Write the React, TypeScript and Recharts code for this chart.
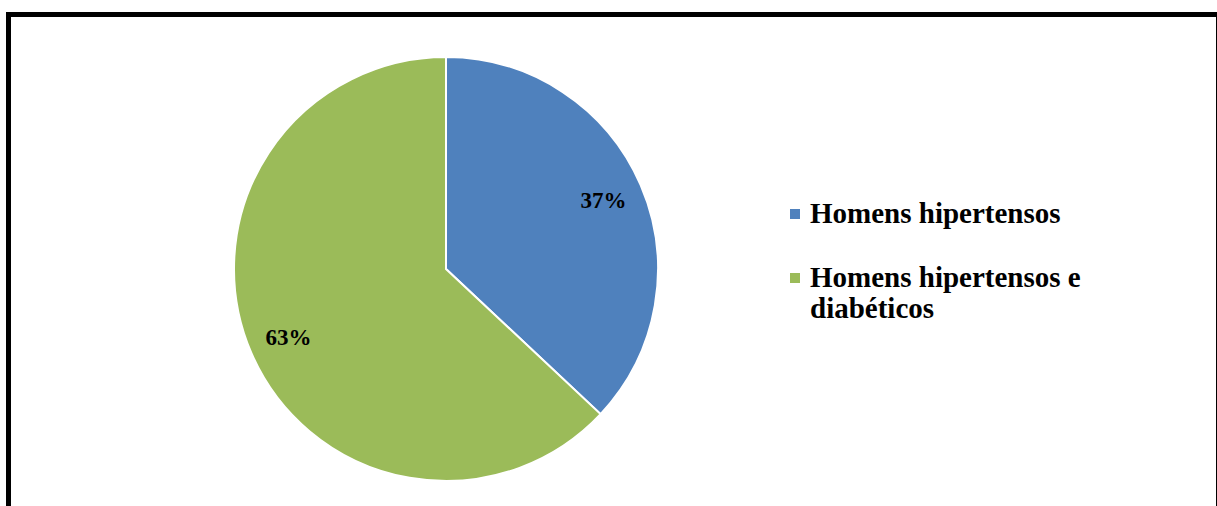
import React from "react";
import { PieChart, Pie, Cell, Legend } from "recharts";

const categories = ["Homens hipertensos", "Homens hipertensos e diabéticos"];
const values = [37, 63];
const colors = ["#4F81BD", "#9BBB59"];

const data = categories.map((name, i) => ({ name, value: values[i] }));

const RAD = Math.PI / 180;

const renderLabel = (props: any) => {
  const { cx, cy, midAngle, outerRadius, value } = props;
  const r = outerRadius * 0.81;
  const x = cx + r * Math.cos(-midAngle * RAD);
  const y = cy + r * Math.sin(-midAngle * RAD);
  return (
    <text
      x={x}
      y={y}
      textAnchor="middle"
      dominantBaseline="central"
      fontFamily="'Liberation Serif', 'Times New Roman', serif"
      fontWeight="bold"
      fontSize={23}
      fill="#000"
    >
      {`${value}%`}
    </text>
  );
};

const LegendContent = () => (
  <div
    style={{
      fontFamily: "'Liberation Serif', 'Times New Roman', serif",
      fontWeight: "bold",
      fontSize: 29,
      lineHeight: "31px",
      color: "#000",
      width: 300,
      textAlign: "left",
    }}
  >
    {data.map((d, i) => (
      <div
        key={d.name}
        style={{ position: "relative", paddingLeft: 24, marginBottom: i === 0 ? 33 : 0 }}
      >
        <span
          style={{
            position: "absolute",
            left: 4,
            top: 11,
            width: 10,
            height: 10,
            background: colors[i],
          }}
        />
        {d.name}
      </div>
    ))}
  </div>
);

export default function App() {
  return (
    <div
      style={{
        position: "absolute",
        left: 0,
        top: 0,
        width: 1217,
        height: 506,
        overflow: "hidden",
        background: "#fff",
      }}
    >
      <div
        style={{
          position: "absolute",
          left: 6,
          top: 12,
          width: 1215,
          height: 520,
          border: "5px solid #000",
          boxSizing: "border-box",
        }}
      />
      <PieChart
        width={1217}
        height={506}
        margin={{ top: 0, right: 0, bottom: 0, left: 0 }}
        style={{ position: "absolute", left: 0, top: 0 }}
      >
        <Pie
          data={data}
          dataKey="value"
          nameKey="name"
          cx={446}
          cy={269}
          outerRadius={212}
          startAngle={90}
          endAngle={-270}
          stroke="#fff"
          strokeWidth={2}
          label={renderLabel}
          labelLine={false}
          isAnimationActive={false}
        >
          {data.map((d, i) => (
            <Cell key={d.name} fill={colors[i]} />
          ))}
        </Pie>
        <Legend
          content={<LegendContent />}
          layout="vertical"
          wrapperStyle={{ position: "absolute", left: 786, top: 198, width: 320 }}
        />
      </PieChart>
    </div>
  );
}
